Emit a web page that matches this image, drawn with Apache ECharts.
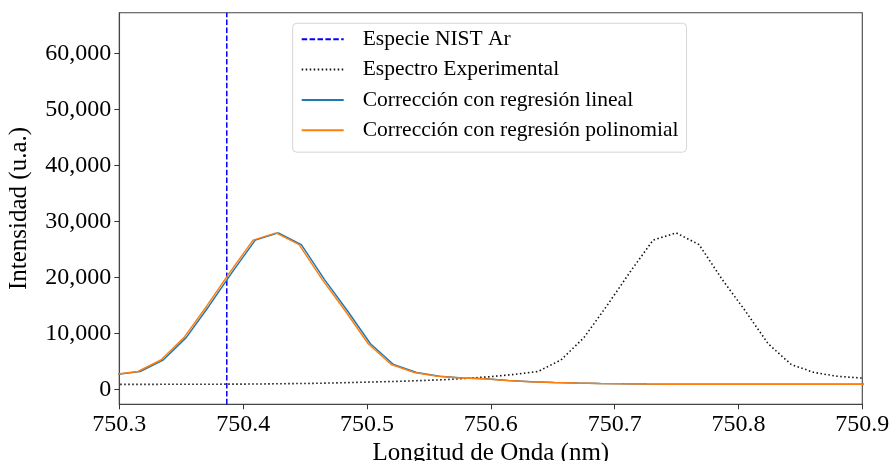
<!DOCTYPE html>
<html>
<head>
<meta charset="utf-8">
<script src="https://cdn.jsdelivr.net/npm/echarts@6/dist/echarts.min.js"></script>
<style>
html,body{margin:0;padding:0;background:#fff;}
#chart{width:892px;height:461px;}
</style>
</head>
<body>
<div id="chart"></div>
<script>
// Wavelengths (nm) of the measured spectrum
const wavelengthsExp = [750.2846,750.3032,750.3218,750.3404,750.3590,750.3776,750.3962,750.4148,750.4334,750.4520,
  750.4706,750.4892,750.5078,750.5264,750.5450,750.5636,750.5822,750.6008,750.6194,750.6380,
  750.6566,750.6752,750.6938,750.7124,750.7310,750.7496,750.7682,750.7868,750.8054,750.8240,
  750.8426,750.8612,750.8798,750.8984,750.9170,750.9356,750.9542,750.9728,750.9914,751.0100,
  751.0286,751.0472,751.0658,751.0844,751.1030,751.1216,751.1402,751.1588,751.1774,751.1960,
  751.2146,751.2332];
// Wavelengths after linear-regression correction
const wavelengthsLineal = [749.9634,749.9820,750.0006,750.0192,750.0378,750.0564,750.0750,750.0936,750.1122,750.1308,
  750.1494,750.1680,750.1866,750.2052,750.2238,750.2424,750.2610,750.2796,750.2982,750.3168,
  750.3354,750.3540,750.3726,750.3912,750.4098,750.4284,750.4470,750.4656,750.4842,750.5028,
  750.5214,750.5400,750.5586,750.5772,750.5958,750.6144,750.6330,750.6516,750.6702,750.6888,
  750.7074,750.7260,750.7446,750.7632,750.7818,750.8004,750.8190,750.8376,750.8562,750.8748,
  750.8934,750.9120];
// Wavelengths after polynomial-regression correction
const wavelengthsPolinomial = [749.9616,749.9802,749.9988,750.0174,750.0360,750.0546,750.0732,750.0918,750.1104,750.1290,
  750.1476,750.1662,750.1848,750.2034,750.2220,750.2406,750.2592,750.2778,750.2964,750.3150,
  750.3336,750.3522,750.3708,750.3894,750.4080,750.4266,750.4452,750.4638,750.4824,750.5010,
  750.5196,750.5382,750.5568,750.5754,750.5940,750.6126,750.6312,750.6498,750.6684,750.6870,
  750.7056,750.7242,750.7428,750.7614,750.7800,750.7986,750.8172,750.8358,750.8544,750.8730,
  750.8916,750.9102];
// Intensities (u.a.)
const intensity = [950,960,960,970,980,990,1000,1030,1080,1120,
  1200,1300,1400,1500,1650,1800,2050,2350,2750,3250,
  5300,9300,15000,21000,26700,28000,25900,19700,14100,8200,
  4500,3070,2400,2100,1950,1650,1420,1300,1200,1120,
  1060,1020,1000,990,980,975,970,965,960,960,
  960,955];
const nistLine = 750.3868;
const xTicks = [750.3,750.4,750.5,750.6,750.7,750.8,750.9];
const yTicks = [0,10000,20000,30000,40000,50000,60000];
const xRange = [750.3, 750.9];
const yRange = [-2600, 67300];
const seriesNames = ['Especie NIST Ar','Espectro Experimental','Corrección con regresión lineal','Corrección con regresión polinomial'];

const zip = (xs, ys) => xs.map((x, i) => [x, ys[i]]);
const FONT = '"Liberation Serif", "Times New Roman", serif';

const chart = echarts.init(document.getElementById('chart'), null, {renderer: 'canvas'});
chart.setOption({
  animation: false,
  backgroundColor: '#ffffff',
  grid: {left: 119.3, right: 29.7, top: 12.7, bottom: 56.7, show: true, borderColor: '#444', borderWidth: 1.1,
         backgroundColor: 'transparent', outerBoundsMode: 'none', containLabel: false},
  legend: {
    orient: 'vertical',
    left: 292.7, top: 23.3,
    padding: [5, 8, 11, 8],
    itemGap: 8.3,
    itemWidth: 42, itemHeight: 14,
    backgroundColor: 'rgba(255,255,255,0.8)',
    borderColor: '#d6d6d6', borderWidth: 1, borderRadius: 4,
    selectedMode: false,
    itemStyle: {color: 'rgba(0,0,0,0)', borderWidth: 0, opacity: 0},
    textStyle: {fontFamily: FONT, fontSize: 21.5, color: '#000', lineHeight: 22, padding: [0,0,0,14]},
    data: seriesNames
  },
  xAxis: {
    type: 'value', min: xRange[0], max: xRange[1],
    name: 'Longitud de Onda (nm)', nameLocation: 'middle', nameGap: 34,
    nameTextStyle: {fontFamily: FONT, fontSize: 25, color: '#000'},
    axisLine: {show: true, onZero: false, lineStyle: {color: '#444', width: 1.1}},
    axisTick: {show: true, inside: false, length: 5, lineStyle: {color: '#333'}, customValues: xTicks},
    axisLabel: {fontFamily: FONT, fontSize: 24, color: '#000', margin: 8, customValues: xTicks, formatter: v => v.toFixed(1)},
    splitLine: {show: false}
  },
  yAxis: {
    type: 'value', min: yRange[0], max: yRange[1],
    name: 'Intensidad (u.a.)', nameLocation: 'middle', nameGap: 87,
    nameTextStyle: {fontFamily: FONT, fontSize: 25, color: '#000'},
    axisLine: {show: true, onZero: false, lineStyle: {color: '#444', width: 1.1}},
    axisTick: {show: true, inside: false, length: 5, lineStyle: {color: '#333'}, customValues: yTicks},
    axisLabel: {fontFamily: FONT, fontSize: 24, color: '#000', margin: 8, customValues: yTicks, formatter: v => v.toLocaleString('en-US')},
    splitLine: {show: false}
  },
  series: [
    {
      name: seriesNames[0], type: 'line', symbol: 'none', color: '#0000ff',
      data: [[nistLine, yRange[0]], [nistLine, yRange[1]]],
      lineStyle: {color: '#0000ff', width: 1.5, type: [5.5, 2.4]}
    },
    {
      name: seriesNames[1], type: 'line', data: zip(wavelengthsExp, intensity), symbol: 'none', color: '#111',
      lineStyle: {color: '#111', width: 1.6, type: [1.5, 2.5]}
    },
    {
      name: seriesNames[2], type: 'line', data: zip(wavelengthsLineal, intensity), symbol: 'none', color: '#1f77b4',
      lineStyle: {color: '#1f77b4', width: 1.5}
    },
    {
      name: seriesNames[3], type: 'line', data: zip(wavelengthsPolinomial, intensity), symbol: 'none', color: '#ff7f0e',
      lineStyle: {color: '#ff7f0e', width: 1.5}
    }
  ]
});
</script>
</body>
</html>
